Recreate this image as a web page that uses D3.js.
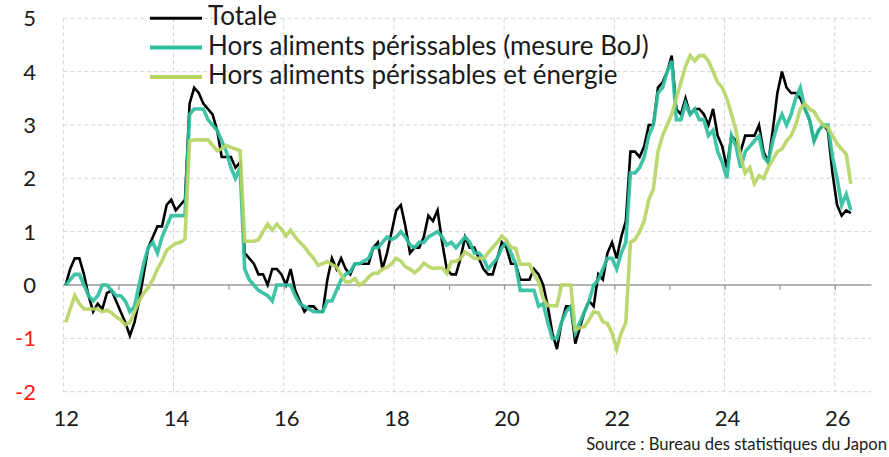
<!DOCTYPE html>
<html>
<head>
<meta charset="utf-8">
<script src="https://cdn.jsdelivr.net/npm/d3@7"></script>
<style>
  body { margin: 0; background: #fff; }
  text { font-family: Lato, "Liberation Sans", sans-serif; fill: #1a1a1a; }
</style>
</head>
<body>
<div id="chart"></div>
<script>
// monthly data, Jan 2012 -> Apr 2026 (y/y %)
var startYear = 2012;

var totale = [
  0.0, 0.3, 0.5, 0.5, 0.2, -0.2, -0.5, -0.35, -0.45, -0.15, -0.1, -0.3,
  -0.5, -0.7, -0.95, -0.7, -0.3, 0.2, 0.7, 0.9, 1.1, 1.1, 1.5, 1.6,
  1.4, 1.5, 1.6, 3.4, 3.7, 3.6, 3.4, 3.3, 3.2, 2.9, 2.4, 2.4,
  2.4, 2.2, 2.3, 0.6, 0.5, 0.4, 0.2, 0.2, 0.0, 0.3, 0.3, 0.2,
  0.0, 0.3, -0.1, -0.3, -0.5, -0.4, -0.4, -0.5, -0.5, 0.1, 0.5, 0.3,
  0.5, 0.3, 0.2, 0.4, 0.4, 0.4, 0.4, 0.7, 0.8, 0.3, 0.6, 1.0,
  1.4, 1.5, 1.1, 0.6, 0.7, 0.7, 0.9, 1.3, 1.2, 1.4, 0.8, 0.3,
  0.2, 0.2, 0.5, 0.9, 0.7, 0.7, 0.5, 0.3, 0.2, 0.2, 0.5, 0.8,
  0.7, 0.4, 0.4, 0.1, 0.1, 0.1, 0.3, 0.2, 0.0, -0.4, -0.9, -1.2,
  -0.7, -0.4, -0.4, -1.1, -0.8, -0.5, -0.3, -0.4, 0.2, 0.1, 0.6, 0.8,
  0.5, 0.9, 1.2, 2.5, 2.5, 2.4, 2.6, 3.0, 3.0, 3.7, 3.8, 4.0,
  4.3, 3.3, 3.2, 3.5, 3.2, 3.3, 3.3, 3.2, 3.0, 3.3, 2.8, 2.6,
  2.2, 2.8, 2.7, 2.5, 2.8, 2.8, 2.8, 3.0, 2.5, 2.3, 2.9, 3.6,
  4.0, 3.7, 3.6, 3.6, 3.5, 3.3, 3.1, 2.7, 2.9, 3.0, 2.9, 2.1,
  1.5, 1.3, 1.4, 1.35
];

var horsFrais = [
  0.0, 0.1, 0.2, 0.2, 0.0, -0.2, -0.3, -0.2, 0.0, 0.0, -0.1, -0.2,
  -0.2, -0.3, -0.5, -0.4, 0.0, 0.4, 0.7, 0.8, 0.6, 0.9, 1.1, 1.3,
  1.3, 1.3, 1.3, 3.2, 3.3, 3.3, 3.3, 3.1, 3.0, 2.9, 2.7, 2.5,
  2.2, 2.0, 2.2, 0.3, 0.1, 0.0, -0.1, -0.15, -0.2, -0.3, 0.0, 0.0,
  0.0, 0.0, -0.2, -0.35, -0.4, -0.45, -0.5, -0.5, -0.5, -0.3, -0.3, -0.1,
  0.1, 0.2, 0.25, 0.4, 0.4, 0.45, 0.5, 0.7, 0.7, 0.8, 0.9, 0.85,
  0.9, 1.0, 0.9, 0.75, 0.7, 0.8, 0.8, 0.9, 0.95, 1.0, 0.9, 0.75,
  0.8, 0.7, 0.8, 0.9, 0.8, 0.6, 0.6, 0.5, 0.3, 0.4, 0.5, 0.7,
  0.8, 0.6, 0.4, -0.1, -0.1, -0.1, -0.1, -0.4, -0.35, -0.7, -1.0, -1.0,
  -0.7, -0.5, -0.4, -0.9, -0.7, -0.5, -0.3, 0.0, 0.1, 0.3, 0.5, 0.5,
  0.3, 0.6, 0.8, 2.1, 2.1, 2.2, 2.4, 2.8, 3.0, 3.6, 3.7, 4.0,
  4.2, 3.1, 3.1, 3.4, 3.2, 3.3, 3.1, 3.1, 2.8, 2.9, 2.5, 2.3,
  2.0, 2.8, 2.6, 2.2, 2.5, 2.6, 2.7, 2.8, 2.4, 2.3, 2.7, 3.0,
  3.2, 3.0, 3.2, 3.5, 3.7, 3.3, 3.1, 2.7, 2.9, 3.0, 3.0, 2.4,
  2.0, 1.5, 1.7, 1.4
];

var horsFraisEnergie = [
  -0.7, -0.45, -0.2, -0.35, -0.45, -0.45, -0.45, -0.45, -0.5, -0.47, -0.52, -0.6,
  -0.65, -0.75, -0.7, -0.5, -0.3, -0.15, -0.05, 0.1, 0.3, 0.45, 0.65, 0.72,
  0.78, 0.8, 0.86, 2.7, 2.72, 2.72, 2.72, 2.72, 2.62, 2.52, 2.55, 2.62,
  2.58, 2.55, 2.52, 0.82, 0.82, 0.82, 0.85, 1.0, 1.14, 1.03, 1.14, 1.05,
  0.92, 1.03, 0.9, 0.8, 0.72, 0.6, 0.5, 0.37, 0.4, 0.44, 0.38, 0.34,
  0.2, 0.06, 0.06, 0.12, 0.0, 0.05, 0.15, 0.22, 0.22, 0.3, 0.33, 0.4,
  0.5, 0.45, 0.34, 0.3, 0.23, 0.3, 0.41, 0.35, 0.31, 0.32, 0.32, 0.22,
  0.44, 0.44, 0.5, 0.62, 0.56, 0.5, 0.5, 0.5, 0.6, 0.7, 0.8, 0.92,
  0.84, 0.7, 0.69, 0.39, 0.39, 0.39, 0.2, 0.06, -0.25, -0.39, -0.39, -0.39,
  0.0, 0.0, 0.0, -0.84, -0.8, -0.78, -0.65, -0.5, -0.52, -0.69, -0.72, -0.9,
  -1.2, -0.9, -0.7, 0.8, 0.85, 1.0, 1.2, 1.6, 1.8, 2.5, 2.8, 3.0,
  3.2, 3.5, 3.8, 4.1, 4.3, 4.2, 4.3, 4.3, 4.2, 4.0, 3.8, 3.7,
  3.5, 3.2, 2.9, 2.4, 2.1, 2.2, 1.9, 2.05, 2.0, 2.2, 2.35, 2.5,
  2.55, 2.7, 2.8, 3.0, 3.3, 3.4, 3.3, 3.25, 3.1, 3.0, 2.95, 2.8,
  2.65, 2.55, 2.45, 1.9
];

var yTicks = [-2, -1, 0, 1, 2, 3, 4, 5];
var yearTicks = [2012, 2014, 2016, 2018, 2020, 2022, 2024, 2026];
var seriesNames = ["Totale", "Hors aliments périssables (mesure BoJ)", "Hors aliments périssables et énergie"];
var seriesColors = ["#000000", "#2fbf9f", "#b6d565"];
var source = "Source : Bureau des statistiques du Japon";

var svgWidth = 889;
var svgHeight = 457;

var svg = d3.select("#chart")
  .append("svg")
  .attr("width", svgWidth)
  .attr("height", svgHeight);

var xScale = d3.scaleLinear()
  .domain([2012, 2026 + 8 / 12])
  .range([63.3, 871.5]);

var yScale = d3.scaleLinear()
  .domain([-2, 5])
  .range([391.7, 18.3]);

// grid
var grid = svg.append("g");
grid.selectAll(".hgrid")
  .data(yTicks.filter(d => d !== 0))
  .enter()
  .append("line")
  .attr("x1", xScale.range()[0])
  .attr("x2", xScale.range()[1])
  .attr("y1", d => yScale(d))
  .attr("y2", d => yScale(d))
  .attr("stroke", "#d4d4d4")
  .attr("stroke-width", 1)
  .attr("stroke-dasharray", "4,3");

grid.selectAll(".vgrid")
  .data(yearTicks)
  .enter()
  .append("line")
  .attr("x1", d => xScale(d))
  .attr("x2", d => xScale(d))
  .attr("y1", yScale(5))
  .attr("y2", yScale(-2))
  .attr("stroke", "#d4d4d4")
  .attr("stroke-width", 1)
  .attr("stroke-dasharray", "4,3");

// zero axis with yearly ticks
var bottomAxis = d3.axisBottom(xScale)
  .tickValues(d3.range(2013, 2027))
  .tickSize(5)
  .tickFormat("");

var zeroAxis = svg.append("g")
  .attr("transform", `translate(0, ${yScale(0)})`)
  .call(bottomAxis);
zeroAxis.select(".domain")
  .attr("d", `M${xScale.range()[0]},0H${xScale.range()[1]}`)
  .attr("stroke", "#9a9a9a")
  .attr("stroke-width", 1.5);
zeroAxis.selectAll(".tick line").attr("stroke", "#9a9a9a").attr("stroke-width", 1.2);

// y labels
svg.selectAll(".ylab")
  .data(yTicks)
  .enter()
  .append("text")
  .attr("x", 36)
  .attr("y", d => yScale(d) + 8)
  .attr("text-anchor", "end")
  .style("font-size", "22px")
  .style("fill", d => d < 0 ? "#ff2020" : "#1a1a1a")
  .text(d => d);

// x labels
svg.selectAll(".xlab")
  .data(yearTicks)
  .enter()
  .append("text")
  .attr("x", d => xScale(d) + 3)
  .attr("y", 426)
  .attr("text-anchor", "middle")
  .style("font-size", "22px")
  .text(d => String(d).slice(2));

// lines
var line = d3.line()
  .x((d, i) => xScale(startYear + (i + 0.5) / 12))
  .y(d => yScale(d));

var allSeries = [totale, horsFrais, horsFraisEnergie];
var widths = [2.6, 3.6, 3.6];
var opac = [1, 0.92, 0.92];

svg.selectAll(".series")
  .data(allSeries)
  .enter()
  .append("path")
  .attr("d", d => line(d))
  .attr("fill", "none")
  .attr("stroke", (d, i) => seriesColors[i])
  .attr("stroke-width", (d, i) => widths[i])
  .attr("stroke-opacity", (d, i) => opac[i])
  .attr("stroke-linejoin", "miter");

// legend
var legend = svg.append("g");
seriesNames.forEach(function(name, i) {
  var ly = 18.3 + i * 29.3;
  legend.append("line")
    .attr("x1", 150)
    .attr("x2", 202)
    .attr("y1", ly)
    .attr("y2", ly)
    .attr("stroke", seriesColors[i])
    .attr("stroke-width", i === 0 ? 3 : 4);
  legend.append("text")
    .attr("x", 208)
    .attr("y", ly + 7)
    .style("font-size", "26px")
    .text(name);
});

svg.append("text")
  .attr("x", 887)
  .attr("y", 450)
  .attr("text-anchor", "end")
  .style("font-size", "16.6px")
  .text(source);
</script>
</body>
</html>
